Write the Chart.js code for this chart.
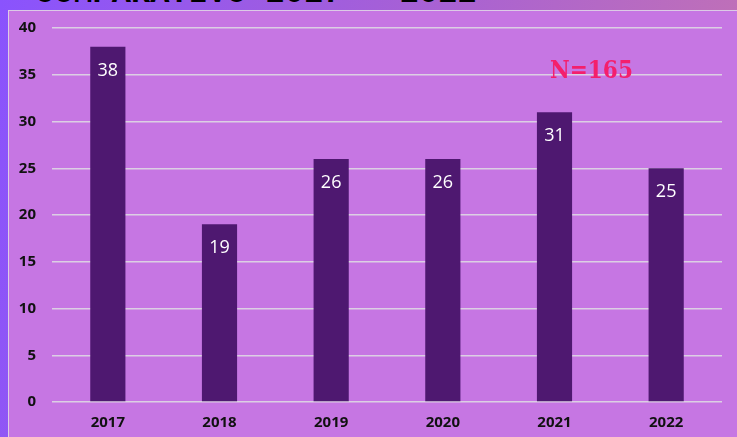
<!DOCTYPE html>
<html>
<head>
<meta charset="utf-8">
<script src="https://cdn.jsdelivr.net/npm/chart.js@4"></script>
<style>
  html, body { margin: 0; padding: 0; }
  body {
    width: 737px; height: 437px; overflow: hidden; position: relative;
    background: linear-gradient(100deg, #8a53fd 0%, #a660d6 50%, #c473b2 100%);
  }
  #titulo {
    position: absolute; left: 35px; top: -25px; line-height: 32px;
    font: bold 32px "Liberation Mono", monospace; color: #000; white-space: nowrap;
  }
  #panel {
    position: absolute; left: 8px; top: 10px; width: 760px; height: 460px;
    background: #c676e3; border: 1px solid #dccbe6;
  }
  #chartBox { position: absolute; left: 0; top: 0; width: 728px; height: 426px; }
  #total {
    position: absolute; left: 550px; top: 55px; line-height: 30px;
    font-family: "DejaVu Serif", serif; font-weight: bold; font-size: 24px;
    font-stretch: condensed; color: #f41f6c;
  }
</style>
</head>
<body>
<div id="titulo">COMPARATIVO 2017 - 2022</div>
<div id="panel">
  <div id="chartBox"><canvas id="casosChart"></canvas></div>
</div>
<div id="total">N=165</div>
<script>
// Datos
const anios = ['2017', '2018', '2019', '2020', '2021', '2022'];
const casos = [38, 19, 26, 26, 31, 25];
const ejeY = { min: 0, max: 40, paso: 5 };

// etiquetas blancas dentro de cada barra
const etiquetasBarras = {
    id: 'etiquetasBarras',
    afterDatasetsDraw(chart) {
        const ctx = chart.ctx;
        const meta = chart.getDatasetMeta(0);
        ctx.save();
        ctx.fillStyle = '#ffffff';
        ctx.font = '18px "Open Sans"';
        ctx.textAlign = 'center';
        ctx.textBaseline = 'middle';
        meta.data.forEach(function(bar, i) {
            ctx.fillText(String(casos[i]), bar.x, bar.y + 24);
        });
        ctx.restore();
    }
};

document.addEventListener('DOMContentLoaded', function() {
    const ctx = document.getElementById('casosChart');
    new Chart(ctx, {
        type: 'bar',
        data: {
            labels: anios,
            datasets: [{
                data: casos,
                backgroundColor: '#4e1870',
                borderWidth: 0,
                barPercentage: 0.315,
                categoryPercentage: 1
            }]
        },
        options: {
            responsive: true,
            maintainAspectRatio: false,
            animation: false,
            layout: { padding: { top: 17, right: 15, left: 0, bottom: 0 } },
            plugins: {
                legend: { display: false },
                tooltip: { enabled: false }
            },
            scales: {
                y: {
                    min: ejeY.min,
                    max: ejeY.max,
                    afterFit: function(scale) {
                        scale.width = 43;
                        scale.paddingTop = 8;
                        scale.paddingBottom = 8;
                    },
                    ticks: {
                        stepSize: ejeY.paso,
                        padding: 16,
                        color: '#111111',
                        font: { family: '"Open Sans"', size: 15, weight: 'bold' }
                    },
                    border: { display: false },
                    grid: { color: '#dccfe4', lineWidth: 1.5, drawTicks: false }
                },
                x: {
                    afterFit: function(scale) { scale.height = 35; },
                    ticks: {
                        padding: 12,
                        color: '#111111',
                        font: { family: '"Open Sans"', size: 15, weight: 'bold' }
                    },
                    border: { display: false },
                    grid: { display: false, drawTicks: false }
                }
            }
        },
        plugins: [etiquetasBarras]
    });
});
</script>
</body>
</html>
